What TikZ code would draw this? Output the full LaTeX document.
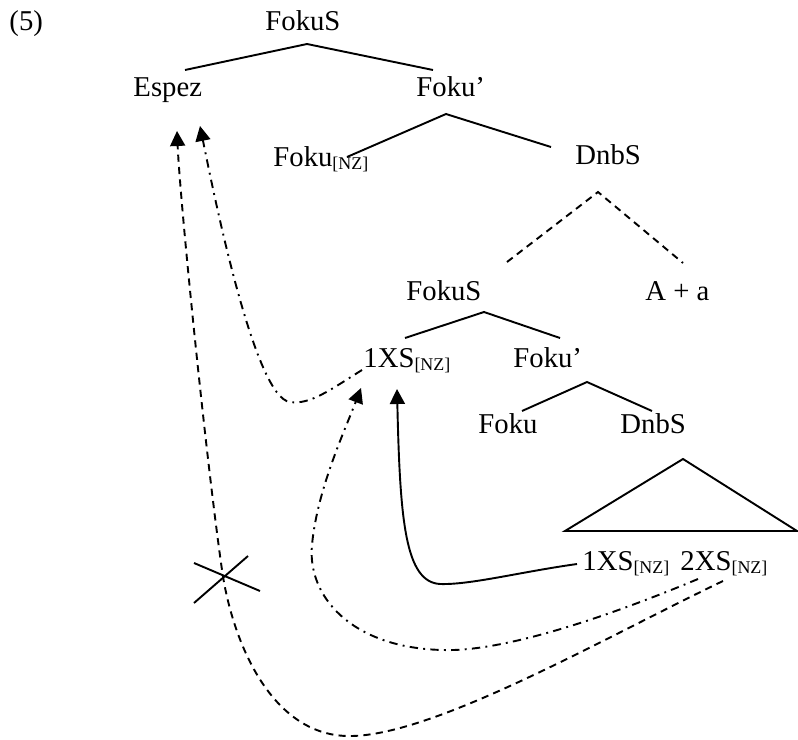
\documentclass[tikz,border=0pt]{standalone}
\usepackage{fontspec}
\setmainfont{Liberation Serif}
\usetikzlibrary{arrows.meta}
\newcommand{\nz}{\raisebox{-1.5pt}{\fontsize{7.5}{8}\selectfont[NZ]}}
\tikzset{
  lbl/.style    = {inner sep=0pt, anchor=base west, font=\fontsize{12}{14}\selectfont},
  branch/.style = {line width=0.8pt},
  hidden/.style = {line width=0.8pt, dash pattern=on 3pt off 2.2pt},
  mov/.style    = {line width=0.8pt, -{Triangle[length=2.2mm, width=2.2mm]}},
  movdd/.style  = {mov, dash pattern=on 3.5pt off 2.2pt on 0.8pt off 2.2pt},
  movd/.style   = {mov, dash pattern=on 3pt off 2.2pt},
  cross/.style  = {line width=0.8pt}
}

\begin{document}
\begin{tikzpicture}[x=0.0147cm, y=-0.0147cm]
\useasboundingbox (0,0) rectangle (798,740);
% Labels
\node[lbl] (num)   at (9,31)    {(5)};
\node[lbl] (fs1)   at (265,31)  {FokuS};
\node[lbl] (spec)  at (133,97)  {Espez};
\node[lbl] (fb1)   at (416,97)  {Foku'};
\node[lbl] (f1)    at (273,166) {Foku\nz};
\node[lbl] (dp1)   at (575,165) {DnbS};
\node[lbl] (fs2)   at (406,300) {FokuS};
\node[lbl] (aa)    at (645,300) {A + a};
\node[lbl] (xs1)   at (363,367) {1XS\nz};
\node[lbl] (fb2)   at (513,367) {Foku'};
\node[lbl] (f2)    at (478,433) {Foku};
\node[lbl] (dp2)   at (620,433) {DnbS};
\node[lbl] (xs1lo) at (582,570) {1XS\nz};
\node[lbl] (xs2lo) at (680,570) {2XS\nz};
% Branch points
\coordinate (fs1-t) at (307,44);  \coordinate (fs1-l) at (185,70);  \coordinate (fs1-r) at (433,70);
\coordinate (fb1-t) at (446,114); \coordinate (fb1-l) at (347,157); \coordinate (fb1-r) at (551,147);
\coordinate (dp1-t) at (598,192); \coordinate (dp1-l) at (507,262); \coordinate (dp1-r) at (683,263);
\coordinate (fs2-t) at (484,312); \coordinate (fs2-l) at (405,338); \coordinate (fs2-r) at (560,338);
\coordinate (fb2-t) at (587,382); \coordinate (fb2-l) at (522,411); \coordinate (fb2-r) at (652,411);
\coordinate (tri-t) at (683,459); \coordinate (tri-l) at (565,531); \coordinate (tri-r) at (797,531);
% Tree
\draw[branch] (fs1-l) -- (fs1-t) -- (fs1-r);
\draw[branch] (fb1-l) -- (fb1-t) -- (fb1-r);
\draw[hidden] (dp1-l) -- (dp1-t) -- (dp1-r);
\draw[branch] (fs2-l) -- (fs2-t) -- (fs2-r);
\draw[branch] (fb2-l) -- (fb2-t) -- (fb2-r);
\draw[branch] (tri-t) -- (tri-l) -- (tri-r) -- cycle;
% Movement ends
\coordinate (spec-a) at (177,131); \coordinate (spec-b) at (200,126);
\coordinate (xs1-a)  at (361,388); \coordinate (xs1-b)  at (397,389);
\coordinate (xs1-c)  at (362,370);
\coordinate (lo1-a)  at (577,564);
\coordinate (lo2-a)  at (698,579); \coordinate (lo2-b)  at (723,581);
% Movement
\draw[mov] (lo1-a) .. controls (520,572) and (470,585) .. (440,584)
  .. controls (405,582) and (400,520) .. (xs1-b);
\draw[movdd] (lo2-a) .. controls (600,620) and (500,652) .. (443,650)
  .. controls (350,648) and (307,595) .. (312,545)
  .. controls (317,490) and (345,430) .. (xs1-a);
\draw[movdd] (xs1-c) .. controls (330,390) and (310,405) .. (290,402)
  .. controls (255,398) and (215,200) .. (spec-b);
\draw[movd] (lo2-b) .. controls (600,640) and (430,738) .. (347,736)
  .. controls (270,734) and (232,640) .. (222,570)
  .. controls (205,450) and (180,200) .. (spec-a);
% Blocked path
\draw[cross] (194,563) -- (260,591);
\draw[cross] (248,556) -- (194,603);
\end{tikzpicture}
\end{document}
